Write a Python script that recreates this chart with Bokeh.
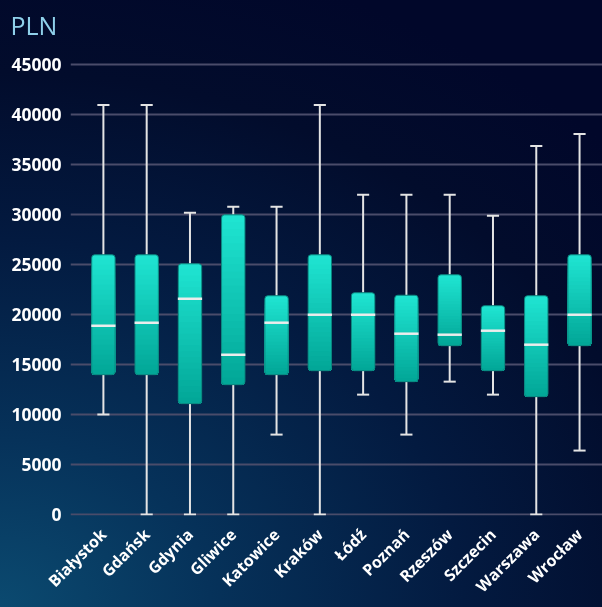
import numpy as np
from math import pi
from bokeh.plotting import figure
from bokeh.models import Range1d, FixedTicker
from bokeh.embed import file_html
from bokeh.resources import INLINE

cities = ["Białystok", "Gdańsk", "Gdynia", "Gliwice", "Katowice", "Kraków",
          "Łódź", "Poznań", "Rzeszów", "Szczecin", "Warszawa", "Wrocław"]
lower = [10000, 0, 0, 0, 8000, 0, 12000, 8000, 13300, 12000, 0, 6400]
q1 = [14000, 14000, 11100, 13000, 14000, 14400, 14400, 13300, 16900, 14400, 11800, 16900]
median = [18900, 19200, 21600, 16000, 19200, 20000, 20000, 18100, 18000, 18400, 17000, 20000]
q3 = [26000, 26000, 25100, 30000, 21900, 26000, 22200, 21950, 24000, 20900, 21900, 26000]
upper = [41000, 41000, 30200, 30800, 30800, 41000, 32000, 32000, 32000, 29900, 36900, 38100]
y_ticks = list(range(0, 45001, 5000))

xs = np.arange(len(cities))

p = figure(width=602, height=607, x_range=Range1d(-0.76, 11.53),
           y_range=Range1d(-100, 47052), output_backend="svg",
           toolbar_location=None, min_border_left=70, min_border_right=0,
           min_border_top=44, min_border_bottom=92)
p.background_fill_color = None
p.border_fill_color = None
p.outline_line_color = None
p.styles = {
    "position": "fixed", "left": "0px", "top": "0px",
    "background": "radial-gradient(ellipse 140% 110% at 0% 100%, #0b4a70 0%, #06325a 25%, #031a40 55%, #020c2c 80%, #01072a 100%)",
}

p.title.text = "PLN"
p.title.text_font = "Open Sans"
p.title.text_font_style = "normal"
p.title.text_font_size = "25px"
p.title.text_color = "#8fd0ea"
p.title.align = "left"
p.title.offset = -60
p.title.standoff = 6

# axes
p.yaxis.ticker = FixedTicker(ticks=y_ticks)
p.xaxis.ticker = FixedTicker(ticks=list(xs))
p.xaxis.major_label_overrides = {int(i): c for i, c in zip(xs, cities)}
for ax in (p.xaxis[0], p.yaxis[0]):
    ax.axis_line_color = None
    ax.major_tick_line_color = None
    ax.minor_tick_line_color = None
    ax.major_tick_out = 0
    ax.major_tick_in = 0
    ax.major_label_text_color = "white"
    ax.major_label_text_font = "Open Sans"
    ax.major_label_text_font_style = "bold"
p.yaxis.major_label_text_font_size = "17.5px"
p.yaxis.major_label_standoff = 9
p.xaxis.major_label_text_font_size = "16px"
p.xaxis.major_label_orientation = pi / 4
p.xaxis.major_label_standoff = 16

p.xgrid.grid_line_color = None
p.ygrid.ticker = FixedTicker(ticks=y_ticks)
p.ygrid.grid_line_color = "#4a4c6a"
p.ygrid.grid_line_width = 2

# whiskers
wcol = "#e4e4e4"
p.segment(x0=xs, y0=q3, x1=xs, y1=upper, line_color=wcol, line_width=2)
p.segment(x0=xs, y0=lower, x1=xs, y1=q1, line_color=wcol, line_width=2)
p.segment(x0=xs - 0.14, y0=upper, x1=xs + 0.14, y1=upper, line_color=wcol, line_width=2)
p.segment(x0=xs - 0.14, y0=lower, x1=xs + 0.14, y1=lower, line_color=wcol, line_width=2)

# boxes with vertical gradient
top_col = np.array([0x1f, 0xe4, 0xd1])
bot_col = np.array([0x02, 0xa7, 0x98])
N = 24
q1a = np.array(q1, dtype=float)
q3a = np.array(q3, dtype=float)
for k in range(N):
    frac = k / (N - 1)
    c = (top_col * (1 - frac) + bot_col * frac).round().astype(int)
    col = "#%02x%02x%02x" % tuple(c)
    tops = q1a + (q3a - q1a) * (N - k) / N
    p.vbar(x=xs, bottom=q1a, top=tops, width=0.54, fill_color=col,
           line_color=None, border_radius=3)
p.vbar(x=xs, bottom=q1, top=q3, width=0.54, fill_color=None,
       line_color="#0b857e", line_width=1, border_radius=3)

# medians
p.segment(x0=xs - 0.28, y0=median, x1=xs + 0.28, y1=median,
          line_color="#ececec", line_width=2.5)

open("out.html", "w").write(file_html(p, INLINE))
